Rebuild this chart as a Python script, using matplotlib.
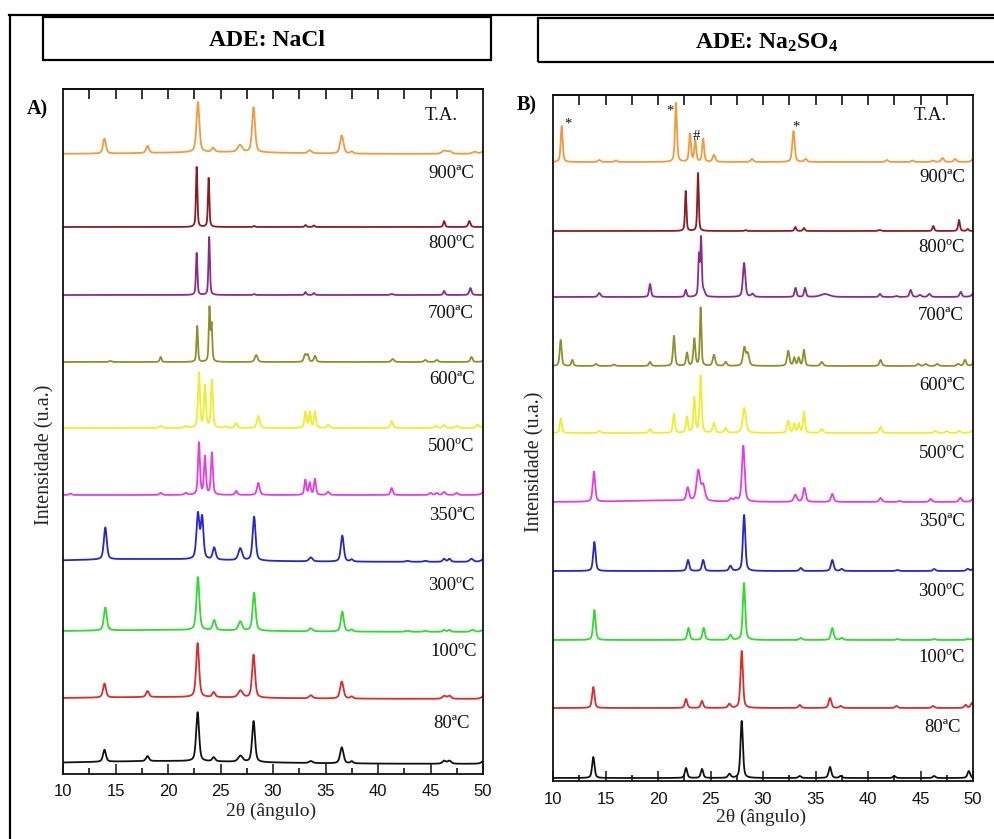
import numpy as np
import matplotlib
matplotlib.use("Agg")
import matplotlib.pyplot as plt
from matplotlib.lines import Line2D
from matplotlib.patches import Rectangle
from matplotlib.ticker import MultipleLocator, FixedLocator

plt.rcParams["mathtext.fontset"] = "custom"
plt.rcParams["mathtext.bf"] = "Liberation Serif:bold"
plt.rcParams["mathtext.rm"] = "Liberation Serif"
plt.rcParams["mathtext.default"] = "bf"

# ---------------------------------------------------------------------------
# Diffraction data: each pattern is a list of reflections (2theta, intensity, FWHM)
# ---------------------------------------------------------------------------
temp_labels = ["T.A.", "900ªC", "800ºC", "700ªC", "600ªC", "500ºC",
               "350ªC", "300ºC", "100ºC", "80ªC"]
colors = ["#F39A3A", "#8E1B24", "#8C2A8C", "#8F8F2A", "#EEEE2A", "#E63CE6",
          "#2626CC", "#2EDB2E", "#DD2A2A", "#111111"]

# ADE: NaCl
nacl_ta = [(13.95, 15, 0.33), (18.05, 7, 0.33), (22.85, 50, 0.33), (24.3, 4, 0.33),
           (26.85, 7, 0.5), (28.15, 45, 0.33), (33.5, 3, 0.4), (36.55, 18, 0.38),
           (37.5, 2, 0.3), (46.3, 3, 0.5), (46.8, 2.5, 0.5), (49.2, 2, 0.5),
           (50.2, 4, 0.6), (25.0, 2, 14)]
nacl_900 = [(22.73, 60, 0.16), (23.87, 49, 0.16), (28.2, 1, 0.2), (33.1, 2, 0.2),
            (33.9, 1.5, 0.2), (46.3, 6, 0.2), (48.7, 6, 0.25)]
nacl_800 = [(22.73, 42, 0.16), (23.92, 58, 0.16), (28.2, 1, 0.2), (33.1, 3, 0.2),
            (33.9, 2, 0.2), (41.3, 1, 0.3), (46.3, 4, 0.2), (48.8, 7, 0.25)]
nacl_700 = [(14.5, 1, 0.3), (19.3, 5, 0.2), (22.78, 36, 0.16), (23.95, 53, 0.16),
            (24.15, 36, 0.16), (28.4, 7, 0.3), (33.05, 7, 0.25), (33.3, 7, 0.25),
            (34.0, 6, 0.25), (41.4, 3, 0.3), (44.5, 2, 0.3), (45.6, 2, 0.3),
            (48.9, 5, 0.25), (50.2, 2, 0.5)]
nacl_600 = [(19.3, 2, 0.3), (21.7, 2, 0.3), (22.95, 55, 0.22), (23.52, 42, 0.22),
            (24.18, 48, 0.22), (25.5, 1.5, 0.3), (26.5, 5, 0.25), (28.6, 12, 0.3),
            (33.08, 16, 0.22), (33.5, 16, 0.22), (34.0, 16, 0.22), (35.25, 3, 0.3),
            (41.3, 7, 0.25), (45.5, 2, 0.3), (46.3, 3, 0.3), (47.5, 2, 0.3),
            (49.5, 3, 0.3), (50.2, 3, 0.5)]
nacl_500 = [(10.7, 1.5, 0.3), (19.3, 2, 0.3), (21.7, 2, 0.3), (22.95, 52, 0.22),
            (23.52, 38, 0.22), (24.18, 42, 0.22), (26.5, 4, 0.25), (28.6, 12, 0.3),
            (33.08, 15, 0.22), (33.5, 12, 0.22), (34.0, 16, 0.22), (35.25, 3, 0.3),
            (41.3, 7, 0.25), (45.0, 2, 0.3), (45.6, 2, 0.3), (46.3, 3, 0.3),
            (47.5, 2, 0.3), (50.2, 4, 0.6)]
nacl_350 = [(14.03, 32, 0.33), (22.85, 45, 0.33), (23.25, 41, 0.3), (24.4, 12, 0.33),
            (26.88, 12, 0.42), (28.2, 44, 0.33), (33.6, 4, 0.4), (36.6, 26, 0.33),
            (37.5, 2, 0.3), (42.8, 1, 0.4), (44.5, 1, 0.4), (46.3, 3, 0.3),
            (46.8, 3, 0.3), (48.9, 3, 0.4), (50.2, 4, 0.6), (18.0, 3, 18)]
nacl_300 = [(14.03, 23, 0.33), (22.85, 53, 0.33), (24.4, 10, 0.33), (26.88, 9, 0.42),
            (28.2, 38, 0.33), (33.6, 3, 0.4), (36.6, 20, 0.33), (37.5, 2, 0.3),
            (42.8, 1, 0.4), (44.5, 1, 0.4), (46.3, 2, 0.3), (46.8, 2, 0.3),
            (49.0, 2, 0.4), (50.2, 3, 0.6), (20.0, 2, 20)]
nacl_100 = [(13.95, 14, 0.33), (18.05, 6, 0.33), (22.82, 54, 0.33), (24.35, 5, 0.33),
            (26.9, 7, 0.5), (28.15, 43, 0.33), (33.6, 3, 0.4), (36.55, 17, 0.38),
            (37.5, 2, 0.3), (46.3, 3, 0.4), (46.8, 3, 0.4), (50.2, 4, 0.6),
            (20.0, 2, 20)]
nacl_80 = [(13.95, 12, 0.33), (18.05, 5, 0.33), (22.82, 49, 0.33), (24.35, 4, 0.33),
           (26.9, 6, 0.5), (28.15, 41, 0.33), (33.6, 2, 0.4), (36.55, 16, 0.38),
           (37.5, 2, 0.3), (46.3, 3, 0.4), (46.8, 3, 0.4), (50.2, 4, 0.6),
           (20.0, 3, 20)]

# ADE: Na2SO4
sulf_ta = [(10.83, 36, 0.22), (14.4, 2, 0.3), (16.0, 1.5, 0.3), (21.71, 59, 0.22),
           (23.05, 28, 0.22), (23.55, 21, 0.22), (24.3, 23, 0.22), (25.33, 7, 0.3),
           (28.95, 3, 0.3), (32.9, 31, 0.27), (34.06, 3, 0.3), (41.8, 2, 0.3),
           (44.25, 1.5, 0.3), (46.2, 1.5, 0.3), (47.1, 4, 0.3), (48.3, 3, 0.3),
           (50.2, 5, 0.5)]
sulf_900 = [(22.64, 40, 0.16), (23.81, 58, 0.16), (28.35, 1, 0.2), (33.08, 4, 0.2),
            (33.9, 3, 0.2), (41.1, 1, 0.3), (46.22, 5, 0.2), (48.67, 11, 0.2),
            (49.5, 2, 0.2)]
sulf_800 = [(14.4, 4, 0.3), (19.24, 13, 0.22), (22.64, 7, 0.2), (23.9, 40, 0.16),
            (24.1, 57, 0.16), (24.35, 5, 0.3), (28.2, 34, 0.27), (29.0, 3, 0.3),
            (33.1, 9, 0.22), (34.0, 9, 0.22), (35.9, 3, 1.0), (41.14, 3, 0.25),
            (42.7, 1, 0.3), (44.06, 7, 0.25), (44.95, 2, 0.3), (45.84, 3, 0.3),
            (48.83, 5, 0.25), (50.2, 6, 0.5)]
sulf_700 = [(10.73, 26, 0.22), (11.84, 6, 0.22), (14.1, 2, 0.3), (15.8, 1.5, 0.3),
            (19.24, 4, 0.25), (21.52, 30, 0.22), (22.76, 13, 0.22), (23.46, 27, 0.22),
            (24.06, 58, 0.17), (25.33, 11, 0.27), (26.44, 4, 0.27), (28.22, 18, 0.3),
            (28.55, 12, 0.3), (32.4, 15, 0.27), (32.98, 8, 0.22), (33.4, 8, 0.22),
            (33.9, 16, 0.22), (35.59, 4, 0.3), (41.2, 6, 0.27), (44.8, 2, 0.3),
            (45.5, 2, 0.3), (46.6, 2, 0.3), (48.6, 2, 0.3), (49.24, 6, 0.27),
            (50.2, 6, 0.4)]
sulf_600 = [(10.75, 15, 0.22), (14.4, 2, 0.3), (19.24, 4, 0.25), (21.52, 19, 0.22),
            (22.76, 16, 0.22), (23.46, 35, 0.22), (24.06, 57, 0.22), (25.33, 10, 0.27),
            (26.44, 5, 0.27), (28.22, 25, 0.37), (32.4, 12, 0.27), (32.98, 9, 0.22),
            (33.4, 9, 0.22), (33.9, 21, 0.22), (35.59, 4, 0.3), (41.2, 6, 0.27),
            (46.4, 2, 0.3), (47.5, 2, 0.3), (48.7, 2, 0.3), (50.2, 5, 0.5)]
sulf_500 = [(13.9, 30, 0.27), (22.83, 13, 0.3), (23.84, 30, 0.4), (24.3, 15, 0.4),
            (26.95, 3, 0.3), (27.4, 3, 0.3), (28.12, 56, 0.3), (33.08, 7, 0.35),
            (33.94, 14, 0.3), (36.6, 8, 0.3), (41.2, 4, 0.3), (43.0, 1, 0.3),
            (45.97, 3, 0.3), (48.8, 4, 0.3), (50.2, 6, 0.5), (20.0, 1.5, 8)]
sulf_350 = [(13.94, 29, 0.27), (22.86, 11, 0.27), (24.3, 11, 0.27), (26.9, 5, 0.3),
            (28.2, 56, 0.27), (33.6, 3, 0.3), (36.6, 11, 0.3), (37.5, 2, 0.3),
            (42.8, 1, 0.3), (46.3, 2, 0.3), (49.5, 2, 0.3), (50.2, 5, 0.4)]
sulf_300 = [(13.94, 30, 0.27), (22.9, 12, 0.27), (24.35, 12, 0.27), (26.9, 5, 0.3),
            (28.19, 57, 0.27), (33.6, 2, 0.3), (36.6, 12, 0.3), (37.5, 2, 0.3),
            (42.8, 1, 0.3), (46.3, 1, 0.3), (49.5, 1, 0.3), (50.2, 3, 0.4)]
sulf_100 = [(13.84, 21, 0.27), (22.67, 9, 0.27), (24.19, 7, 0.27), (26.8, 4, 0.3),
            (27.97, 57, 0.27), (33.5, 3, 0.3), (36.38, 10, 0.3), (37.4, 2, 0.3),
            (42.7, 2, 0.3), (46.2, 2, 0.3), (49.3, 3, 0.3), (49.9, 5, 0.3)]
sulf_80 = [(13.84, 21, 0.27), (22.67, 10, 0.27), (24.19, 9, 0.27), (26.8, 4, 0.3),
           (27.97, 57, 0.27), (33.5, 2, 0.3), (36.38, 11, 0.3), (37.4, 2, 0.3),
           (42.5, 2, 0.3), (46.3, 2, 0.3), (49.6, 7, 0.3)]

nacl_patterns = [nacl_ta, nacl_900, nacl_800, nacl_700, nacl_600, nacl_500,
                 nacl_350, nacl_300, nacl_100, nacl_80]
sulf_patterns = [sulf_ta, sulf_900, sulf_800, sulf_700, sulf_600, sulf_500,
                 sulf_350, sulf_300, sulf_100, sulf_80]

# vertical stacking (offset of each baseline) and label placement
nacl_offsets = [620, 547, 479, 412, 346, 279, 212, 142, 75, 10]
sulf_offsets = [619, 550, 484, 415, 348, 279, 210, 141, 73, 3]
nacl_label_lift = [39, 54, 52, 49, 48, 48, 47, 47, 47, 41]
sulf_label_lift = [46, 53, 50, 51, 48, 49, 49, 48, 50, 50]
nacl_label_x = [47.6, 49.2, 49.2, 49.1, 49.2, 49.2, 49.2, 49.2, 49.4, 48.76]
sulf_label_x = [47.5, 49.24, 49.24, 49.1, 49.24, 49.24, 49.24, 49.24, 49.24, 48.86]

# reflection markers on the room-temperature Na2SO4 pattern
marker_text = ["*", "*", "#", "*"]
marker_x = [11.4, 21.1, 23.65, 33.1]
marker_y = [657, 670, 645, 654]

two_theta = np.linspace(10, 50, 4001)


def profile(x, refl):
    y = np.zeros_like(x)
    for c, h, w in refl:
        d2 = 4.0 * (x - c) ** 2 / w ** 2
        y += h * (0.5 / (1.0 + d2) + 0.5 * np.exp(-np.log(2.0) * d2))
    return y


W, H = 995, 839
fig = plt.figure(figsize=(W / 100, H / 100), dpi=100)


def fx(px):
    return px / W


def fy(py):
    return 1 - py / H


SERIF = ["Liberation Serif", "DejaVu Serif"]
SANS = ["Liberation Sans", "DejaVu Sans"]

# frame and header boxes
fig.add_artist(Line2D([fx(9), fx(995)], [fy(15), fy(15)], color="black", lw=1.6))
fig.add_artist(Line2D([fx(9.5), fx(9.5)], [fy(15), fy(839)], color="black", lw=1.6))
fig.add_artist(Rectangle((fx(43), fy(60)), fx(491 - 43), (60 - 17) / H,
                         fill=False, ec="black", lw=1.6))
fig.add_artist(Rectangle((fx(538), fy(62)), fx(997 - 538), (62 - 18) / H,
                         fill=False, ec="black", lw=1.6))
fig.text(fx(267), fy(41), "ADE: NaCl", ha="center", va="center",
         family=SERIF, fontweight="bold", fontsize=17)
fig.text(fx(767), fy(43), r"ADE: Na$_2$SO$_4$", ha="center", va="center",
         family=SERIF, fontweight="bold", fontsize=17)


def draw_panel(rect_px, patterns, offsets, lifts, label_xs, letter, letter_xy,
               ylab_xy, xlab_xy, tick_pad):
    left, top, right, bottom = rect_px
    ax = fig.add_axes([fx(left), fy(bottom), fx(right - left), (bottom - top) / H])
    height = bottom - top
    for refl, off, col, lab, lift, lx in zip(patterns, offsets, colors,
                                              temp_labels, lifts, label_xs):
        ax.plot(two_theta, off + profile(two_theta, refl), color=col, lw=1.3)
        ax.text(lx, off + lift, lab, ha="right", va="center", family=SERIF,
                fontsize=13.5, color="#111111")
    ax.set_xlim(10, 50)
    ax.set_ylim(0, height)
    ax.set_yticks([])
    ax.xaxis.set_major_locator(MultipleLocator(5))
    ax.xaxis.set_minor_locator(MultipleLocator(2.5))
    ax.tick_params(axis="x", which="major", direction="in", length=7, width=1.1,
                   pad=tick_pad, labelsize=12, colors="#111111")
    ax.tick_params(axis="x", which="minor", direction="in", length=4.5, width=1.1)
    for lab in ax.get_xticklabels():
        lab.set_family(SANS)
    for sp in ax.spines.values():
        sp.set_linewidth(1.3)
        sp.set_color("#111111")
    top_ax = ax.secondary_xaxis("top")
    top_ax.xaxis.set_major_locator(FixedLocator(np.arange(12.5, 50, 2.5)))
    top_ax.tick_params(direction="in", length=7, width=1.1, labeltop=False)
    top_ax.spines["top"].set_linewidth(1.3)
    fig.text(fx(letter_xy[0]), fy(letter_xy[1]), letter, ha="center", va="center",
             family=SERIF, fontweight="bold", fontsize=14.5)
    fig.text(fx(ylab_xy[0]), fy(ylab_xy[1]), "Intensidade (u.a.)", rotation=90,
             ha="center", va="center", family=SERIF, fontsize=14.5, color="#222222")
    fig.text(fx(xlab_xy[0]), fy(xlab_xy[1]), "2θ (ângulo)", ha="center",
             va="center", family=SERIF, fontsize=14, color="#222222")
    return ax


ax_a = draw_panel((63, 89, 483, 774), nacl_patterns, nacl_offsets,
                  nacl_label_lift, nacl_label_x, "A)", (37, 109),
                  (45, 455), (271, 811), 7)
ax_b = draw_panel((553, 95, 973, 781), sulf_patterns, sulf_offsets,
                  sulf_label_lift, sulf_label_x, "B)", (527, 105),
                  (535, 462), (761, 817), 8)

for t, x, y in zip(marker_text, marker_x, marker_y):
    ax_b.text(x, y, t, ha="center", va="center", family=SERIF, fontsize=10.5,
              color="#111111")

fig.savefig("out.png", dpi=100)
